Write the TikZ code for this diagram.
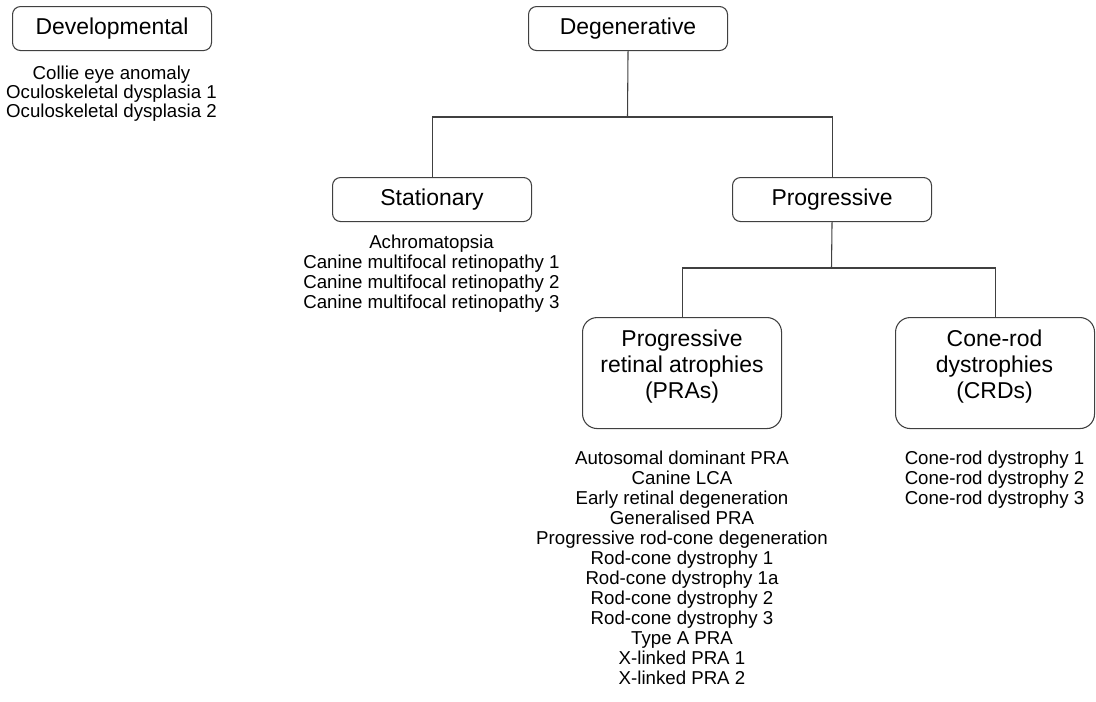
\documentclass[tikz,border=0pt]{standalone}
\usepackage{fontspec}
\setmainfont{Liberation Sans}
\begin{document}
\begin{tikzpicture}[x=0.75pt,y=-0.75pt,
  box/.style={draw=black!75,line width=0.8pt,rounded corners=6pt,minimum width=199*0.75pt,minimum height=44*0.75pt,inner sep=0pt,font=\fontsize{17.2}{19.3}\selectfont,anchor=north west},
  bigbox/.style={draw=black!75,line width=0.8pt,rounded corners=11pt,minimum width=199*0.75pt,minimum height=111*0.75pt,inner sep=0pt,anchor=north west},
  boxtext/.style={inner sep=0pt,align=center,font=\fontsize{17.2}{19.5}\selectfont},
  list/.style={anchor=north,inner sep=0pt,align=center,font=\fontsize{14}{15}\selectfont},
  conn/.style={draw=black!75,line width=0.8pt}]
\useasboundingbox (0,0) rectangle (1096,701);
% boxes
\node[box] (dev) at (12,6) {Developmental};
\node[box] (deg) at (528,6) {Degenerative};
\node[box] (stat) at (332,177) {Stationary};
\node[box] (prog) at (732,177) {Progressive};
\node[bigbox] (pra) at (582,317) {};
\node[bigbox] (crd) at (895,317) {};
\node[boxtext] (pratext) at (682,367) {Progressive\\retinal atrophies\\(PRAs)};
\node[boxtext] (crdtext) at (994.5,367) {Cone-rod\\dystrophies\\(CRDs)};
% lists
\node[list,font=\fontsize{14}{14.3}\selectfont] (devl) at (111.5,66) {Collie eye anomaly\\Oculoskeletal dysplasia 1\\Oculoskeletal dysplasia 2};
\node[list] (statl) at (431.5,235) {Achromatopsia\\Canine multifocal retinopathy 1\\Canine multifocal retinopathy 2\\Canine multifocal retinopathy 3};
\node[list] (pral) at (682,451) {Autosomal dominant PRA\\Canine LCA\\Early retinal degeneration\\Generalised PRA\\Progressive rod-cone degeneration\\Rod-cone dystrophy 1\\Rod-cone dystrophy 1a\\Rod-cone dystrophy 2\\Rod-cone dystrophy 3\\Type A PRA\\X-linked PRA 1\\X-linked PRA 2};
\node[list] (crdl) at (994.5,451) {Cone-rod dystrophy 1\\Cone-rod dystrophy 2\\Cone-rod dystrophy 3};
% connectors
\coordinate (j1) at (627.5,117);
\coordinate (j2) at (831.5,268);
\draw[conn] (deg.south) -- (j1);
\draw[conn] (stat.north) |- (j1) -| (prog.north);
\draw[conn] (prog.south) -- (j2);
\draw[conn] (pra.north) |- (j2) -| (crd.north);
\end{tikzpicture}
\end{document}
